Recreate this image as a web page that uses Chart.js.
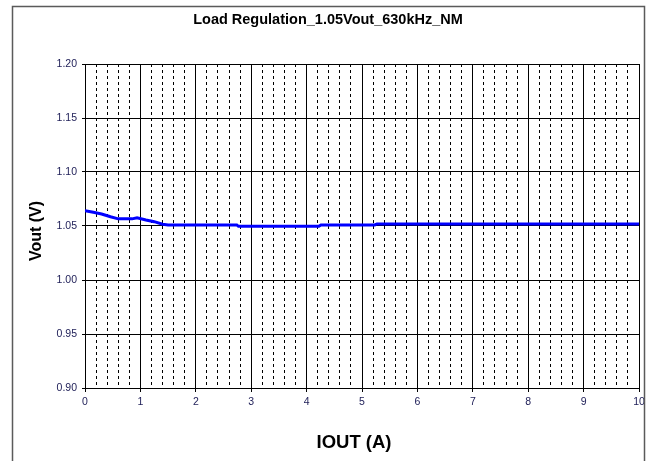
<!DOCTYPE html>
<html>
<head>
<meta charset="utf-8">
<title>Load Regulation</title>
<script src="https://cdn.jsdelivr.net/npm/chart.js@4.4.1/dist/chart.umd.min.js"></script>
<style>
  html, body { margin: 0; padding: 0; background: #fff; }
  canvas { display: block; }
</style>
</head>
<body>
<canvas id="grafico" width="653" height="461"></canvas>
<script>
// Datos
const tituloGrafico = 'Load Regulation_1.05Vout_630kHz_NM';
const tituloX = 'IOUT (A)';
const tituloY = 'Vout (V)';

const iout = [0, 0.15, 0.30, 0.46, 0.60, 0.85, 0.94, 1.10, 1.25, 1.40, 1.50, 2.74, 2.77, 4.22, 4.26, 5.23, 5.27, 10];
const vout = [1.0642, 1.0627, 1.0611, 1.0586, 1.0566, 1.0566, 1.0577, 1.0556, 1.0540, 1.0517, 1.0510, 1.0510, 1.0497, 1.0497, 1.0510, 1.0510, 1.0519, 1.0519];

const xTicks = [0, 1, 2, 3, 4, 5, 6, 7, 8, 9, 10];
const xSubdivisiones = 5; // lineas punteadas cada 0.2 A
const yTicks = [0.90, 0.95, 1.00, 1.05, 1.10, 1.15, 1.20];

const fuenteTicks = { family: '"Liberation Sans", Arial, sans-serif', size: 10.5 };
const colorTicks = '#22225a';

function esEntero(v) {
    return Math.abs(v - Math.round(v)) < 1e-6;
}

// Marco exterior y textos (titulo y nombres de ejes)
const marcoYTextos = {
    id: 'marcoYTextos',
    beforeDraw(chart) {
        const ctx = chart.ctx;
        ctx.save();
        ctx.fillStyle = '#fff';
        ctx.fillRect(0, 0, chart.width, chart.height);
        ctx.restore();
    },
    afterDraw(chart) {
        const ctx = chart.ctx;
        ctx.save();
        ctx.strokeStyle = '#5a5a5a';
        ctx.lineWidth = 1.5;
        ctx.strokeRect(12.5, 6.5, 632, 480);

        ctx.fillStyle = '#000';
        ctx.textAlign = 'center';
        ctx.textBaseline = 'middle';
        ctx.font = 'bold 14.5px "Liberation Sans", Arial, sans-serif';
        ctx.fillText(tituloGrafico, 328, 20);

        ctx.font = 'bold 18.5px "Liberation Sans", Arial, sans-serif';
        ctx.fillText(tituloX, 354, 443);

        ctx.translate(37, 231);
        ctx.rotate(-Math.PI / 2);
        ctx.font = 'bold 16px "Liberation Sans", Arial, sans-serif';
        ctx.fillText(tituloY, 0, 0);
        ctx.restore();
    }
};

const puntos = iout.map((x, i) => ({ x: x, y: vout[i] }));

new Chart(document.getElementById('grafico'), {
    type: 'line',
    data: {
        datasets: [{
            data: puntos,
            borderColor: '#0000ff',
            borderWidth: 3,
            pointRadius: 0,
            tension: 0,
            fill: false
        }]
    },
    options: {
        responsive: false,
        animation: false,
        layout: { padding: { left: 0, top: 64, right: 14, bottom: 0 } },
        plugins: {
            legend: { display: false },
            title: { display: false },
            tooltip: { enabled: false }
        },
        scales: {
            x: {
                type: 'linear',
                min: xTicks[0],
                max: xTicks[xTicks.length - 1],
                afterFit: (scale) => { scale.height = 73; },
                afterBuildTicks: (scale) => {
                    const lista = [];
                    xTicks.forEach((t, i) => {
                        lista.push({ value: t });
                        if (i < xTicks.length - 1) {
                            const paso = (xTicks[i + 1] - t) / xSubdivisiones;
                            for (let k = 1; k < xSubdivisiones; k++) lista.push({ value: t + k * paso });
                        }
                    });
                    scale.ticks = lista;
                },
                ticks: {
                    autoSkip: false,
                    maxRotation: 0,
                    padding: 4,
                    font: fuenteTicks,
                    color: colorTicks,
                    // '' y no null: con null Chart.js quita tambien la linea de la rejilla
                    callback: (v) => esEntero(v) ? String(Math.round(v)) : ''
                },
                grid: {
                    color: '#000',
                    lineWidth: 1,
                    tickLength: 4,
                    tickColor: (c) => (c.tick && esEntero(c.tick.value)) ? '#000' : 'rgba(0,0,0,0)'
                },
                border: {
                    color: '#000',
                    dash: (c) => (c.tick && !esEntero(c.tick.value)) ? [3, 3] : []
                }
            },
            y: {
                min: yTicks[0],
                max: yTicks[yTicks.length - 1],
                afterFit: (scale) => { scale.width = 85; },
                afterBuildTicks: (scale) => { scale.ticks = yTicks.map(v => ({ value: v })); },
                ticks: {
                    padding: 5,
                    font: fuenteTicks,
                    color: colorTicks,
                    callback: (v) => Number(v).toFixed(2)
                },
                grid: {
                    color: '#000',
                    lineWidth: 1,
                    tickLength: 3
                },
                border: { color: '#000' }
            }
        }
    },
    plugins: [marcoYTextos]
});
</script>
</body>
</html>
